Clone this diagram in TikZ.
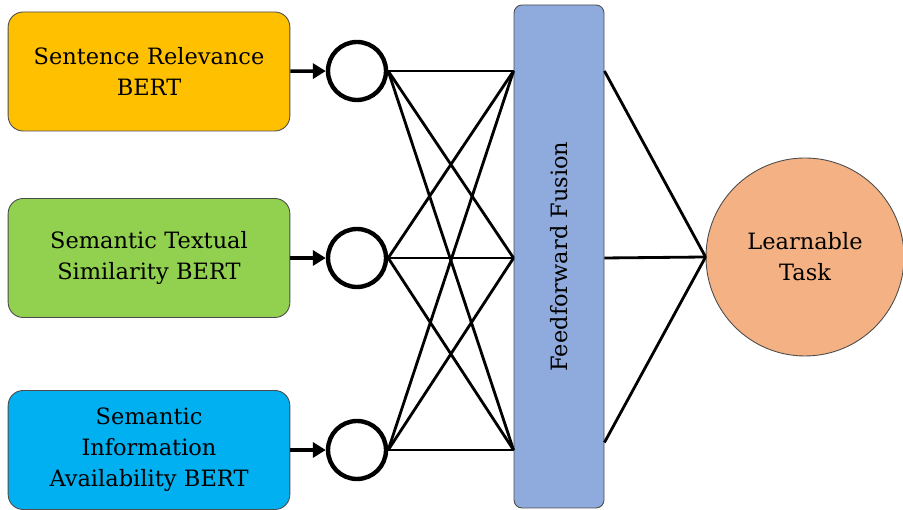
\documentclass[tikz,border=0pt]{standalone}
\usepackage{fontspec}
\setmainfont{DejaVu Serif}
\usetikzlibrary{positioning, arrows.meta, calc}
\definecolor{srcolor}{RGB}{255,192,0}
\definecolor{stscolor}{RGB}{146,208,80}
\definecolor{siacolor}{RGB}{0,176,240}
\definecolor{ffcolor}{RGB}{143,170,220}
\definecolor{taskcolor}{RGB}{244,177,131}

\begin{document}
\begin{tikzpicture}[
    labelfont/.style={font=\rmfamily\fontsize{12.8}{17.6}\selectfont},
    bertbox/.style={draw=black!70, line width=0.5pt, rounded corners=0.3cm, minimum width=5.6cm, minimum height=2.38cm, text width=5.4cm, align=center, labelfont},
    neuron/.style={draw, circle, line width=2.5pt, minimum size=1.16cm, inner sep=0pt},
    link/.style={line width=1.6pt}
]
    \useasboundingbox (0,0) rectangle (18.06,10.2);

    % === BERT models ===
    \node[bertbox, fill=srcolor] (sr) at (2.98,8.77) {Sentence Relevance\\BERT};
    \node[bertbox, fill=stscolor] (sts) at (2.98,5.04) {Semantic Textual\\Similarity BERT};
    \node[bertbox, fill=siacolor] (sia) at (2.98,1.2) {Semantic\\Information\\Availability BERT};

    % Neurons
    \node[neuron] (n1) at (7.14,8.78) {};
    \node[neuron] (n2) at (7.14,5.04) {};
    \node[neuron] (n3) at (7.14,1.2) {};

    \draw[-{Triangle[length=2.6mm, width=3mm]}, line width=1.9pt] (sr) -- (n1);
    \draw[-{Triangle[length=2.6mm, width=3mm]}, line width=1.9pt] (sts) -- (n2);
    \draw[-{Triangle[length=2.6mm, width=3mm]}, line width=1.9pt] (sia) -- (n3);

    % === Fusion ===
    \node[draw=black!70, line width=0.5pt, fill=ffcolor, rounded corners=0.16cm, minimum width=1.8cm, minimum height=10.06cm, labelfont] (ff) at (11.18,5.07) {\rotatebox{90}{Feedforward Fusion}};

    % Full connections
    \foreach \i in {1,2,3}
        \foreach \j in {1,2,3}
            \draw[link] (n\i.east) -- (ff.west |- n\j);

    % === Task ===
    \node[draw=black!70, line width=0.5pt, circle, fill=taskcolor, minimum size=3.96cm, align=center, labelfont] (task) at (16.1,5.06) {Learnable\\Task};

    \draw[link] (ff.east |- n1) -- (task.west);
    \draw[link] (ff.east |- n2) -- (task.west);
    \draw[link] ([yshift=0.15cm]ff.east |- n3) -- (task.west);
\end{tikzpicture}
\end{document}
